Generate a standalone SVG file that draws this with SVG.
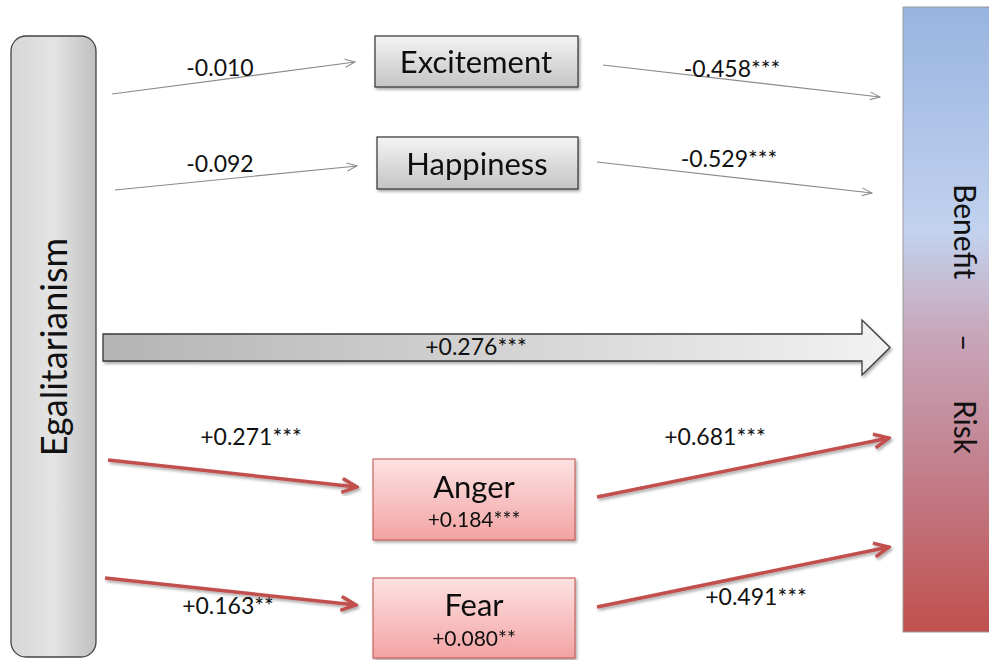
<svg xmlns="http://www.w3.org/2000/svg" width="989" height="660" viewBox="0 0 989 660">
<defs>
<linearGradient id="gEgal" x1="0" y1="0" x2="1" y2="0">
<stop offset="0" stop-color="#d6d6d6"/><stop offset="0.5" stop-color="#e4e4e4"/><stop offset="1" stop-color="#c0c0c0"/>
</linearGradient>
<linearGradient id="gGray" x1="0" y1="0" x2="0" y2="1">
<stop offset="0" stop-color="#f4f4f4"/><stop offset="1" stop-color="#c4c4c4"/>
</linearGradient>
<linearGradient id="gRed" x1="0" y1="0" x2="0" y2="1">
<stop offset="0" stop-color="#fde2e2"/><stop offset="1" stop-color="#f3a3a3"/>
</linearGradient>
<linearGradient id="gBig" x1="0" y1="0" x2="1" y2="0">
<stop offset="0" stop-color="#b4b4b4"/><stop offset="1" stop-color="#f2f2f2"/>
</linearGradient>
<linearGradient id="gBR" x1="0" y1="0" x2="0" y2="1">
<stop offset="0" stop-color="#98b4e0"/><stop offset="0.36" stop-color="#c2d2ee"/><stop offset="0.52" stop-color="#c8a7bb"/><stop offset="0.75" stop-color="#c27d8a"/><stop offset="1" stop-color="#c0504d"/>
</linearGradient>
<filter id="sh" x="-10%" y="-10%" width="130%" height="140%">
<feDropShadow dx="1.5" dy="2" stdDeviation="1.5" flood-color="#000" flood-opacity="0.35"/>
</filter>
<marker id="aGray" viewBox="0 0 12 12" refX="11" refY="6" markerWidth="12" markerHeight="12" markerUnits="userSpaceOnUse" orient="auto">
<path d="M1,2 L11,6 L1,10" fill="none" stroke="#8a8a8a" stroke-width="1"/>
</marker>
<marker id="aRed" viewBox="0 0 20 20" refX="18" refY="10" markerWidth="20" markerHeight="20" markerUnits="userSpaceOnUse" orient="auto">
<path d="M3,3 L18,10 L3,17" fill="none" stroke="#c0504d" stroke-width="3.5" stroke-linejoin="miter"/>
</marker>
<style>
text{font-family:Lato,"Open Sans","Liberation Sans",sans-serif;fill:#111}
.lbl{font-size:23px}
.node{font-size:31px}
.sub{font-size:21px}
.thin{stroke:#8a8a8a;stroke-width:1.2;fill:none;marker-end:url(#aGray)}
.red{stroke:#c0504d;stroke-width:3.5;fill:none;marker-end:url(#aRed);filter:url(#sh)}
</style>
</defs>

<g id="egalitarianism">
<rect x="11" y="36" width="85" height="621" rx="15" fill="url(#gEgal)" stroke="#444" stroke-width="1.3"/>
<text transform="translate(67,347) rotate(-90)" text-anchor="middle" style="font-size:36px">Egalitarianism</text>
</g>

<g id="benefit-risk">
<rect x="903" y="7" width="90" height="625" fill="url(#gBR)" stroke="#9a9a9a" stroke-width="1"/>
<text transform="translate(954,0) rotate(90)" style="font-size:30px"><tspan x="184" y="0">Benefit</tspan><tspan x="334" y="0">–</tspan><tspan x="400" y="0">Risk</tspan></text>
</g>

<g id="excitement" filter="url(#sh)">
<rect x="375" y="36" width="203" height="51" fill="url(#gGray)" stroke="#333" stroke-width="1.2"/>
<text x="476" y="73" text-anchor="middle" class="node">Excitement</text>
</g>

<g id="happiness" filter="url(#sh)">
<rect x="377" y="137" width="201" height="52" fill="url(#gGray)" stroke="#333" stroke-width="1.2"/>
<text x="477" y="175" text-anchor="middle" class="node">Happiness</text>
</g>

<g id="anger" filter="url(#sh)">
<rect x="373" y="459" width="202" height="81" fill="url(#gRed)" stroke="#c0504d" stroke-width="1"/>
<text x="474" y="498" text-anchor="middle" class="node">Anger</text>
<text x="474" y="527" text-anchor="middle" class="sub">+0.184***</text>
</g>

<g id="fear" filter="url(#sh)">
<rect x="373" y="578" width="202" height="80" fill="url(#gRed)" stroke="#c0504d" stroke-width="1"/>
<text x="474" y="616" text-anchor="middle" class="node">Fear</text>
<text x="474" y="646" text-anchor="middle" class="sub">+0.080**</text>
</g>

<g id="connectors">
<line class="thin" x1="112" y1="94" x2="355" y2="62"/>
<line class="thin" x1="115" y1="190" x2="357" y2="166"/>
<line class="thin" x1="603" y1="65" x2="880" y2="97"/>
<line class="thin" x1="597" y1="162" x2="872" y2="193"/>
<path d="M103,334 L862,334 L862,320 L890,347.5 L862,375 L862,361 L103,361 Z" fill="url(#gBig)" stroke="#3a3a3a" stroke-width="1.3" filter="url(#sh)"/>
<line class="red" x1="108" y1="460" x2="357" y2="487"/>
<line class="red" x1="105" y1="578" x2="356" y2="605"/>
<line class="red" x1="597" y1="497" x2="889" y2="438"/>
<line class="red" x1="597" y1="607" x2="889" y2="547"/>
</g>

<g id="labels">
<text x="220" y="76" text-anchor="middle" class="lbl">-0.010</text>
<text x="220" y="172" text-anchor="middle" class="lbl">-0.092</text>
<text x="732" y="77" text-anchor="middle" class="lbl">-0.458***</text>
<text x="729" y="167" text-anchor="middle" class="lbl">-0.529***</text>
<text x="476" y="355" text-anchor="middle" class="lbl">+0.276***</text>
<text x="251" y="445" text-anchor="middle" class="lbl">+0.271***</text>
<text x="228" y="614" text-anchor="middle" class="lbl">+0.163**</text>
<text x="715" y="445" text-anchor="middle" class="lbl">+0.681***</text>
<text x="756" y="605" text-anchor="middle" class="lbl">+0.491***</text>
</g>
</svg>
